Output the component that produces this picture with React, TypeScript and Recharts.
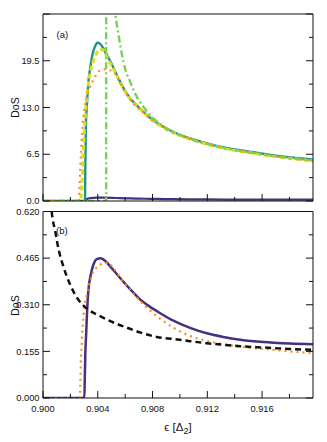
import React from "react";
import { Line, LineChart, XAxis, YAxis } from "recharts";

const X_DOMAIN: [number, number] = [0.9, 0.91972];
const X_TICKS = [0.9, 0.902, 0.904, 0.906, 0.908, 0.91, 0.912, 0.914, 0.916, 0.918];
const X_LABELS = [0.9, 0.904, 0.908, 0.912, 0.916];

const TOP_Y_TICKS = [0, 3.25, 6.5, 9.75, 13, 16.25, 19.5, 22.75, 26];
const TOP_Y_LABELS = [0, 6.5, 13, 19.5];
const BOT_Y_TICKS = [0, 0.0775, 0.155, 0.2325, 0.31, 0.3875, 0.465, 0.5425, 0.62];
const BOT_Y_LABELS = [0, 0.155, 0.31, 0.465, 0.62];

// panel (a)
const tealX = [0.9, 0.90307, 0.90309, 0.90313, 0.9032, 0.90331, 0.90344, 0.90363, 0.9038, 0.90397, 0.90415, 0.90435, 0.9046, 0.9049, 0.9053, 0.90563, 0.906, 0.90636, 0.90685, 0.90733, 0.908, 0.90855, 0.9093, 0.91001, 0.91075, 0.91147, 0.9124, 0.91342, 0.9144, 0.91536, 0.9163, 0.91731, 0.9185, 0.91972];
const tealY = [0, 0, 5, 10.4, 13.1, 16.4, 18.4, 20.5, 21.5, 22.0, 21.9, 21.4, 20.5, 19.5, 17.9, 16.6, 15.3, 14.3, 13.3, 12.4, 11.3, 10.6, 9.8, 9.2, 8.7, 8.3, 7.8, 7.38, 7.05, 6.78, 6.5, 6.22, 6.0, 5.77];

const yellowX = [0.9, 0.90272, 0.90283, 0.90295, 0.90307, 0.9032, 0.90344, 0.9038, 0.90417, 0.90439, 0.90466, 0.9049, 0.9053, 0.90563, 0.906, 0.90636, 0.90685, 0.90733, 0.908, 0.90855, 0.9093, 0.91001, 0.91075, 0.91147, 0.9124, 0.91342, 0.9144, 0.91536, 0.9163, 0.91731, 0.9185, 0.91972];
const yellowY = [0, 0, 1.6, 7.1, 11.3, 14.5, 17.8, 20.05, 21.1, 21.0, 20.0, 19.2, 17.8, 16.5, 15.2, 14.2, 13.2, 12.3, 11.2, 10.5, 9.7, 9.1, 8.6, 8.15, 7.7, 7.25, 6.9, 6.62, 6.35, 6.08, 5.8, 5.55];

const orangeAX = [0.9, 0.90262, 0.90266, 0.90272, 0.90284, 0.90296, 0.90316, 0.9034, 0.90376, 0.90412, 0.90448, 0.90485, 0.9051, 0.9053, 0.90563, 0.906, 0.90636, 0.90685, 0.90733, 0.908, 0.90855, 0.9093, 0.91001, 0.91075, 0.91147, 0.9124, 0.91342, 0.9144, 0.91536, 0.9163, 0.91731, 0.9185, 0.91972];
const orangeAY = [0, 0, 1.5, 4.4, 9.0, 11.8, 14.1, 15.7, 17.1, 18.1, 18.3, 18.2, 18.0, 17.6, 16.4, 15.1, 14.1, 13.1, 12.3, 11.2, 10.5, 9.7, 9.1, 8.6, 8.2, 7.7, 7.3, 6.95, 6.65, 6.4, 6.1, 5.85, 5.6];

const greenX = [0.9, 0.9046, 0.90461, 0.90462, 0.9048, 0.9051, 0.9053, 0.9055, 0.90575, 0.90599, 0.90636, 0.90685, 0.90733, 0.90806, 0.90855, 0.9093, 0.91001, 0.91075, 0.91147, 0.9124, 0.91342, 0.9144, 0.91536, 0.9163, 0.91731, 0.9185, 0.91972];
const greenY = [0, 0, 0, 200, 48, 30, 25.8, 23.3, 20.5, 18.45, 16.6, 14.5, 13.1, 11.5, 10.7, 9.8, 9.2, 8.7, 8.25, 7.75, 7.3, 6.98, 6.7, 6.42, 6.15, 5.9, 5.65];

// panel (b), purple also shown in (a)
const purpleX = [0.9, 0.90302, 0.90306, 0.90309, 0.90315, 0.9032, 0.90331, 0.90349, 0.90368, 0.90393, 0.90422, 0.90453, 0.90502, 0.90563, 0.90636, 0.90709, 0.90782, 0.90831, 0.90952, 0.91074, 0.91196, 0.91317, 0.91439, 0.91561, 0.91682, 0.91804, 0.91972];
const purpleY = [0, 0, 0.08, 0.146, 0.21, 0.267, 0.355, 0.41, 0.443, 0.462, 0.465, 0.456, 0.432, 0.399, 0.362, 0.328, 0.303, 0.289, 0.257, 0.233, 0.215, 0.203, 0.194, 0.188, 0.184, 0.181, 0.179];

const orangeBX = [0.9, 0.90268, 0.90271, 0.90276, 0.90284, 0.90291, 0.90302, 0.9032, 0.90344, 0.90368, 0.90404, 0.90441, 0.90477, 0.90514, 0.90575, 0.9066, 0.90715, 0.90831, 0.90952, 0.91074, 0.91196, 0.91317, 0.91439, 0.91561, 0.91682, 0.91804, 0.91972];
const orangeBY = [0, 0, 0.016, 0.113, 0.19, 0.245, 0.3, 0.344, 0.388, 0.421, 0.437, 0.449, 0.449, 0.432, 0.393, 0.347, 0.32, 0.272, 0.234, 0.206, 0.19, 0.179, 0.171, 0.165, 0.16, 0.155, 0.149];

const blackX = [0.9005, 0.90064, 0.90088, 0.90112, 0.90149, 0.90198, 0.90258, 0.90331, 0.90417, 0.90514, 0.90612, 0.90709, 0.90831, 0.90952, 0.91074, 0.91196, 0.91317, 0.91439, 0.91561, 0.91682, 0.91804, 0.91972];
const blackY = [0.72, 0.619, 0.558, 0.498, 0.437, 0.377, 0.327, 0.294, 0.272, 0.251, 0.234, 0.218, 0.203, 0.196, 0.189, 0.182, 0.177, 0.172, 0.169, 0.166, 0.163, 0.16];

const zip = (xs: number[], ys: number[]) => xs.map((x, i) => ({ x, y: ys[i] }));

const FONT = "'Liberation Sans', Arial, sans-serif";
const has = (list: number[], v: number) => list.some((l) => Math.abs(l - v) < 1e-6);
const xMajor = (v: number) => Math.round((v - 0.9) / 0.002) % 2 === 0;

// ticks point into the plot; tickSize/tickMargin are 0 so x,y sit on the axis line
function EdgeTick(props: any) {
  const { x, y, payload, side, isMajor, labels, fmt } = props;
  const v = payload.value;
  const len = isMajor(v) ? 7 : 4;
  let line;
  let label = null;
  if (side === "bottom") {
    line = <line x1={x} y1={y} x2={x} y2={y - len} />;
    if (labels && has(labels, v))
      label = (
        <text x={x} y={y + 13.7} textAnchor="middle" fontSize={9.3} fill="#111" stroke="none">
          {fmt(v)}
        </text>
      );
  } else if (side === "top") {
    line = <line x1={x} y1={y} x2={x} y2={y + len} />;
  } else if (side === "left") {
    line = <line x1={x} y1={y} x2={x + len} y2={y} />;
    if (labels && has(labels, v))
      label = (
        <text x={x - 3.5} y={y + 3.2} textAnchor="end" fontSize={9.3} fill="#111" stroke="none">
          {fmt(v)}
        </text>
      );
  } else {
    line = <line x1={x} y1={y} x2={x - len} y2={y} />;
  }
  return (
    <g stroke="#111" strokeWidth={1}>
      {line}
      {label}
    </g>
  );
}

function Frame({
  yDomain,
  yTicks,
  yLabels,
  yFmt,
  xLabels,
  bottomHeight,
}: {
  yDomain: [number, number];
  yTicks: number[];
  yLabels: number[];
  yFmt: (v: number) => string;
  xLabels: number[] | null;
  bottomHeight: number;
}) {
  const yStep = yTicks[1] - yTicks[0];
  const yMajor = (v: number) => Math.round(v / yStep) % 2 === 0;
  const common = { allowDataOverflow: true, tickLine: false, tickSize: 0, tickMargin: 0, interval: 0 as const };
  return [
    <XAxis
      key="xb"
      xAxisId="b"
      dataKey="x"
      type="number"
      domain={X_DOMAIN}
      ticks={X_TICKS}
      height={bottomHeight}
      axisLine={{ stroke: "#111" }}
      tick={(p: any) => (
        <EdgeTick {...p} side="bottom" isMajor={xMajor} labels={xLabels} fmt={(v: number) => v.toFixed(3)} />
      )}
      {...common}
    />,
    <XAxis
      key="xt"
      xAxisId="t"
      orientation="top"
      type="number"
      domain={X_DOMAIN}
      ticks={X_TICKS}
      height={1}
      axisLine={{ stroke: "#111" }}
      tick={(p: any) => <EdgeTick {...p} side="top" isMajor={xMajor} />}
      {...common}
    />,
    <YAxis
      key="yl"
      yAxisId="l"
      type="number"
      domain={yDomain}
      ticks={yTicks}
      width={40}
      axisLine={{ stroke: "#111" }}
      tick={(p: any) => <EdgeTick {...p} side="left" isMajor={yMajor} labels={yLabels} fmt={yFmt} />}
      {...common}
    />,
    <YAxis
      key="yr"
      yAxisId="r"
      orientation="right"
      type="number"
      domain={yDomain}
      ticks={yTicks}
      width={1}
      axisLine={{ stroke: "#111" }}
      tick={(p: any) => <EdgeTick {...p} side="right" isMajor={yMajor} />}
      {...common}
    />,
  ];
}

const lineBase = {
  xAxisId: "b",
  yAxisId: "l",
  dataKey: "y",
  type: "monotone" as const,
  dot: false,
  activeDot: false,
  isAnimationActive: false,
};

export default function App() {
  return (
    <div style={{ position: "absolute", left: 0, top: 0, width: 327, height: 442, background: "#fff", fontFamily: FONT }}>
      <div style={{ position: "absolute", left: 0, top: 0 }}>
        <LineChart width={327} height={215} margin={{ top: 13, right: 13, bottom: 13, left: 3 }}>
          {Frame({
            yDomain: [0, 26],
            yTicks: TOP_Y_TICKS,
            yLabels: TOP_Y_LABELS,
            yFmt: (v) => v.toFixed(1),
            xLabels: null,
            bottomHeight: 1,
          })}
          <Line {...lineBase} data={zip(purpleX, purpleY)} stroke="#46307f" strokeWidth={2.2} />
          <Line {...lineBase} data={zip(tealX, tealY)} stroke="#21918c" strokeWidth={2.4} />
          <Line {...lineBase} data={zip(yellowX, yellowY)} stroke="#d9e021" strokeWidth={3} strokeDasharray="5 3" />
          <Line {...lineBase} data={zip(orangeAX, orangeAY)} stroke="#ff8c1a" strokeWidth={2.2} strokeDasharray="2 4" />
          <Line {...lineBase} data={zip(greenX, greenY)} stroke="#7ad151" strokeWidth={2.4} strokeDasharray="7 3 2 3" />
        </LineChart>
      </div>
      <div style={{ position: "absolute", left: 0, top: 200 }}>
        <LineChart width={327} height={242} margin={{ top: 10.5, right: 13, bottom: 0, left: 3 }}>
          {Frame({
            yDomain: [0, 0.62],
            yTicks: BOT_Y_TICKS,
            yLabels: BOT_Y_LABELS,
            yFmt: (v) => v.toFixed(3),
            xLabels: X_LABELS,
            bottomHeight: 44,
          })}
          <Line {...lineBase} data={zip(purpleX, purpleY)} stroke="#46307f" strokeWidth={2.5} />
          <Line {...lineBase} data={zip(orangeBX, orangeBY)} stroke="#ff8c1a" strokeWidth={2.2} strokeDasharray="2 4" />
          <Line {...lineBase} data={zip(blackX, blackY)} stroke="#111" strokeWidth={2.5} strokeDasharray="6 4" />
        </LineChart>
      </div>
      <svg width={327} height={442} style={{ position: "absolute", left: 0, top: 0, pointerEvents: "none" }} fontFamily={FONT} fill="#111">
        <text x={56.5} y={37.5} fontSize={9.5}>(a)</text>
        <text x={56} y={233.8} fontSize={9.5}>(b)</text>
        <text transform="translate(18.5,107.5) rotate(-90)" textAnchor="middle" fontSize={10.5}>DoS</text>
        <text transform="translate(18.5,305.5) rotate(-90)" textAnchor="middle" fontSize={10.5}>DoS</text>
        <text x={178} y={430.5} textAnchor="middle" fontSize={11.5}>
          ϵ [Δ<tspan fontSize={9} dy={3}>2</tspan><tspan dy={-3}>]</tspan>
        </text>
      </svg>
    </div>
  );
}
